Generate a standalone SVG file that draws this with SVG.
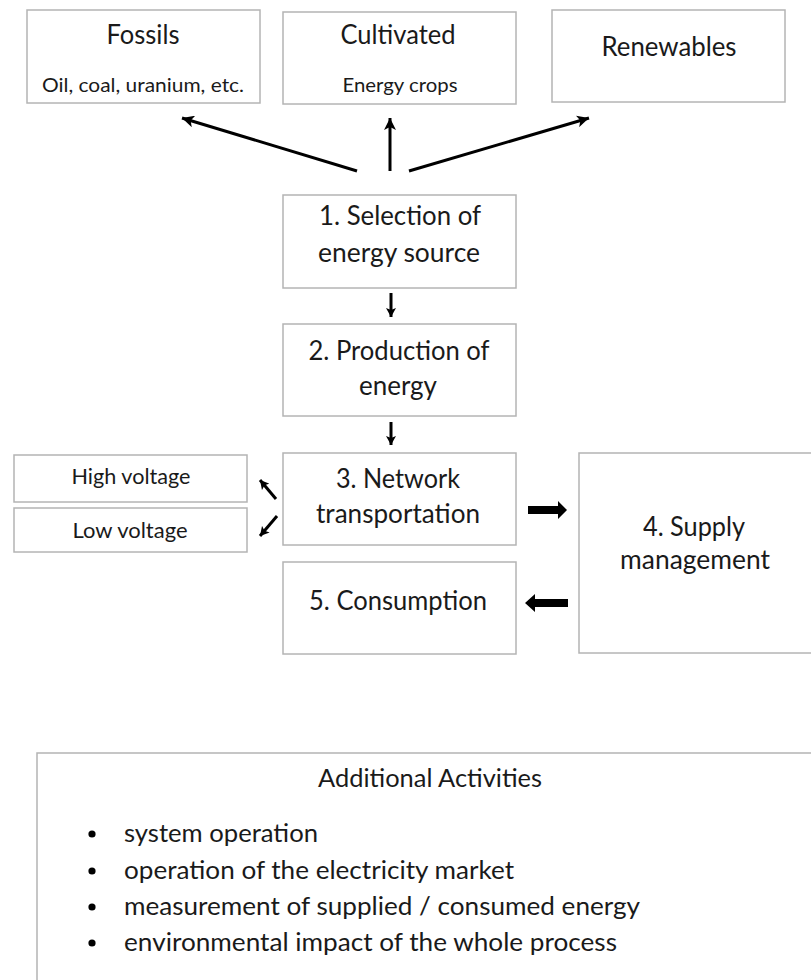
<svg xmlns="http://www.w3.org/2000/svg" width="811" height="980" viewBox="0 0 811 980">
  <style>
    .box { fill: #ffffff; stroke: #b4b4b4; stroke-width: 1.5; }
    text { font-family: Lato, "Open Sans", "Liberation Sans", sans-serif; fill: #1a1a1a; }
    .c { text-anchor: middle; }
    .big { font-size: 27px; }
    .top { font-size: 26px; }
    .sub { font-size: 20px; }
    .volt { font-size: 21px; }
    .list { font-size: 25px; }
    .ln { stroke: #000; fill: none; stroke-width: 3; }
  </style>
  <defs>
    <marker id="ah" markerUnits="userSpaceOnUse" markerWidth="14" markerHeight="12" refX="12" refY="6" orient="auto">
      <path d="M0,0 L12,6 L0,12 L3,6 Z" fill="#000"/>
    </marker>
    <marker id="ahs" markerUnits="userSpaceOnUse" markerWidth="10" markerHeight="10" refX="9" refY="5" orient="auto">
      <path d="M0,0 L9,5 L0,10 L2,5 Z" fill="#000"/>
    </marker>
  </defs>
  <rect width="811" height="980" fill="#ffffff"/>

  <g id="fossils">
    <rect class="box" x="27" y="10" width="233" height="93"/>
    <text class="c top" x="143" y="44" textLength="73" lengthAdjust="spacingAndGlyphs">Fossils</text>
    <text class="c sub" x="143" y="92" textLength="202" lengthAdjust="spacingAndGlyphs">Oil, coal, uranium, etc.</text>
  </g>
  <g id="cultivated">
    <rect class="box" x="283" y="12" width="233" height="92"/>
    <text class="c top" x="398" y="44" textLength="115" lengthAdjust="spacingAndGlyphs">Cultivated</text>
    <text class="c sub" x="400" y="92" textLength="115" lengthAdjust="spacingAndGlyphs">Energy crops</text>
  </g>
  <g id="renewables">
    <rect class="box" x="552" y="10" width="233" height="92"/>
    <text class="c top" x="669" y="56" textLength="135" lengthAdjust="spacingAndGlyphs">Renewables</text>
  </g>

  <g id="step1">
    <rect class="box" x="283" y="195" width="233" height="93"/>
    <text class="c big" x="400" y="225" textLength="162" lengthAdjust="spacingAndGlyphs">1. Selection of</text>
    <text class="c big" x="399" y="262" textLength="162" lengthAdjust="spacingAndGlyphs">energy source</text>
  </g>
  <g id="step2">
    <rect class="box" x="283" y="324" width="233" height="92"/>
    <text class="c big" x="399" y="360" textLength="181" lengthAdjust="spacingAndGlyphs">2. Production of</text>
    <text class="c big" x="398" y="395" textLength="78" lengthAdjust="spacingAndGlyphs">energy</text>
  </g>
  <g id="step3">
    <rect class="box" x="283" y="453" width="233" height="92"/>
    <text class="c big" x="398" y="488" textLength="124" lengthAdjust="spacingAndGlyphs">3. Network</text>
    <text class="c big" x="398" y="523" textLength="164" lengthAdjust="spacingAndGlyphs">transportation</text>
  </g>
  <g id="high-voltage">
    <rect class="box" x="14" y="455" width="233" height="47"/>
    <text class="c volt" x="131" y="484" textLength="119" lengthAdjust="spacingAndGlyphs">High voltage</text>
  </g>
  <g id="low-voltage">
    <rect class="box" x="14" y="508" width="233" height="44"/>
    <text class="c volt" x="130" y="538" textLength="115" lengthAdjust="spacingAndGlyphs">Low voltage</text>
  </g>
  <g id="step4">
    <rect class="box" x="579" y="453" width="240" height="200"/>
    <text class="c big" x="694" y="536" textLength="102" lengthAdjust="spacingAndGlyphs">4. Supply</text>
    <text class="c big" x="695" y="569" textLength="150" lengthAdjust="spacingAndGlyphs">management</text>
  </g>
  <g id="step5">
    <rect class="box" x="283" y="562" width="233" height="92"/>
    <text class="c big" x="398" y="610" textLength="178" lengthAdjust="spacingAndGlyphs">5. Consumption</text>
  </g>

  <g id="additional-activities">
    <rect class="box" x="37" y="753" width="800" height="260"/>
    <text class="c list" x="430" y="787" textLength="224" lengthAdjust="spacingAndGlyphs">Additional Activities</text>
    <circle cx="92" cy="834" r="3.6" fill="#000"/>
    <circle cx="92" cy="871" r="3.6" fill="#000"/>
    <circle cx="92" cy="907" r="3.6" fill="#000"/>
    <circle cx="92" cy="943" r="3.6" fill="#000"/>
    <text class="list" x="124" y="842" textLength="194" lengthAdjust="spacingAndGlyphs">system operation</text>
    <text class="list" x="124" y="879" textLength="390" lengthAdjust="spacingAndGlyphs">operation of the electricity market</text>
    <text class="list" x="124" y="915" textLength="516" lengthAdjust="spacingAndGlyphs">measurement of supplied / consumed energy</text>
    <text class="list" x="124" y="951" textLength="493" lengthAdjust="spacingAndGlyphs">environmental impact of the whole process</text>
  </g>

  <g id="connectors">
    <line class="ln" x1="357" y1="171" x2="182" y2="118" marker-end="url(#ah)"/>
    <line class="ln" x1="390" y1="171" x2="390" y2="118" stroke-width="4" marker-end="url(#ah)"/>
    <line class="ln" x1="409" y1="171" x2="589" y2="118" marker-end="url(#ah)"/>
    <line class="ln" x1="391" y1="293" x2="391" y2="317" stroke-width="2.5" marker-end="url(#ahs)"/>
    <line class="ln" x1="391" y1="422" x2="391" y2="445" stroke-width="2.5" marker-end="url(#ahs)"/>
    <line class="ln" x1="276" y1="499" x2="260" y2="480" stroke-width="2.5" marker-end="url(#ahs)"/>
    <line class="ln" x1="277" y1="516" x2="260" y2="536" stroke-width="2.5" marker-end="url(#ahs)"/>
    <path d="M528,506 L558,506 L558,501 L567,510 L558,519 L558,514 L528,514 Z" fill="#000"/>
    <path d="M568,599 L535,599 L535,594 L525,603 L535,612 L535,607 L568,607 Z" fill="#000"/>
  </g>
</svg>
